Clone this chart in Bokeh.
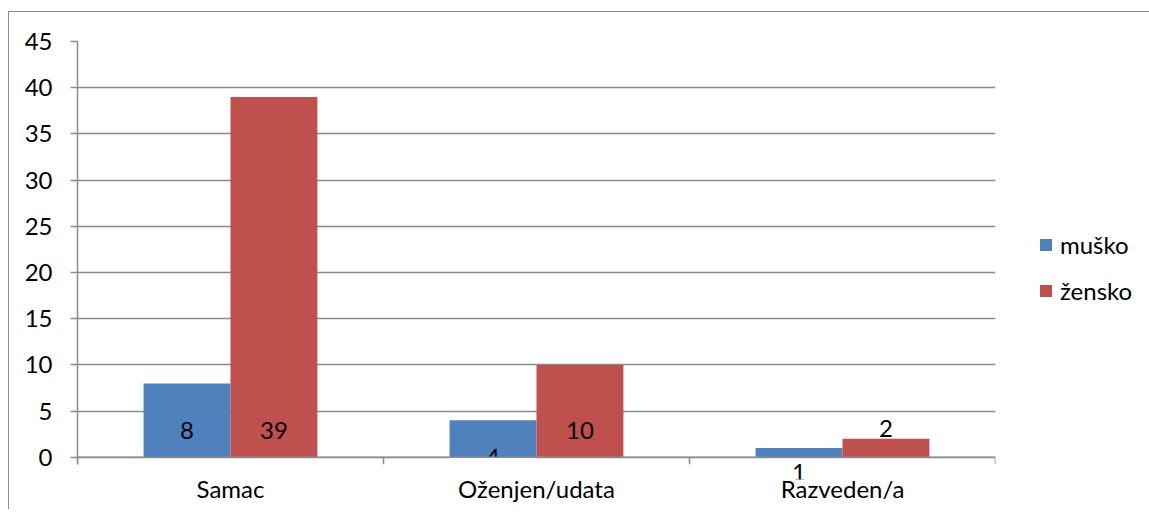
from bokeh.plotting import figure
from bokeh.models import (Range1d, FixedTicker, ColumnDataSource, Span,
                          Legend, LegendItem, CustomJSTickFormatter)
from bokeh.core.properties import value
from bokeh.embed import file_html
from bokeh.resources import INLINE

# ---- data ----
categories = ["Samac", "Oženjen/udata", "Razveden/a"]
series = ["muško", "žensko"]
musko = [8, 4, 1]
zensko = [39, 10, 2]
y_ticks = [0, 5, 10, 15, 20, 25, 30, 35, 40, 45]

# ---- style ----
FONT = "Lato"
FS = "24px"
GRID = "#8c8c8c"
colors = ["#4F81BD", "#C0504D"]
bar_w = 0.284
offs = [-bar_w / 2, bar_w / 2]
n = len(categories)
centres = [i + 0.5 for i in range(n)]
y_bottom = -2.4          # frame extends a little below zero so labels under the axis show
tick_len = 0.76          # 7px outward tick marks, in data units

p = figure(x_range=Range1d(0, n), y_range=Range1d(y_bottom, 45),
           frame_width=918, frame_height=438, output_backend="svg", toolbar_location=None,
           min_border_left=68, min_border_top=29,
           min_border_bottom=30, min_border_right=153)
p.styles = {"border-left": "1px solid #8c8c8c", "border-top": "1px solid #8c8c8c",
            "margin-top": "11px", "margin-left": "8px"}
p.outline_line_color = None
p.background_fill_color = "white"
p.border_fill_color = "white"

cols = {"musko": musko, "zensko": zensko}
renderers = []
for (col, vals), off, c in zip(cols.items(), offs, colors):
    src = ColumnDataSource(dict(x=[x + off for x in centres], top=vals))
    r = p.vbar(x="x", top="top", bottom=0, width=bar_w, source=src,
               fill_color=c, line_color=None)
    renderers.append(r)

# data labels (Excel "inside base" placement, as drawn in the reference)
label_y = {"musko": [2.9, -0.05, -1.62], "zensko": [2.9, 2.9, 3.15]}
for (col, vals), off in zip(cols.items(), offs):
    ls = ColumnDataSource(dict(x=[x + off for x in centres], y=label_y[col],
                               t=[str(v) for v in vals]))
    p.text(x="x", y="y", text="t", source=ls,
           text_align="center", text_baseline="middle", text_font=value(FONT),
           text_font_size=FS, text_color="black")

# the "4" label is cut by the plot area in the reference: mask the part below the axis
p.quad(left=[centres[1] + offs[0] - bar_w / 2], right=[centres[1] + offs[0] + bar_w / 2],
       bottom=[y_bottom], top=[-0.05], fill_color="white", line_color=None)

# category boundary tick marks below the axis
bounds = list(range(n + 1))
p.segment(x0=bounds, y0=[0] * len(bounds), x1=bounds, y1=[-tick_len] * len(bounds),
          line_color=GRID, line_width=1.5)
p.add_layout(Span(location=0, dimension="width", line_color=GRID, line_width=1.5))

# y axis & grid
p.yaxis.ticker = FixedTicker(ticks=y_ticks)
p.yaxis.bounds = (-tick_len, 45)
p.yaxis.major_tick_out = 7
p.yaxis.major_tick_in = 0
p.yaxis.minor_tick_line_color = None
p.yaxis.axis_line_color = GRID
p.yaxis.axis_line_width = 1.5
p.yaxis.major_tick_line_color = GRID
p.yaxis.major_tick_line_width = 1.5
p.yaxis.major_label_standoff = 18
p.yaxis.major_label_text_font = FONT
p.yaxis.major_label_text_font_size = FS
p.yaxis.major_label_text_color = "black"
p.ygrid.grid_line_color = GRID
p.ygrid.grid_line_width = 1.5
p.xgrid.grid_line_color = None

# x axis: category labels only (line and ticks drawn at y=0 above)
xaxis = p.xaxis[0]
xaxis.ticker = FixedTicker(ticks=centres)
xaxis.formatter = CustomJSTickFormatter(args=dict(cats=categories),
                                        code="return cats[Math.floor(tick)];")
xaxis.major_tick_line_color = None
xaxis.minor_tick_line_color = None
xaxis.axis_line_color = None
xaxis.major_tick_out = 0
xaxis.major_tick_in = 0
xaxis.major_label_standoff = -6
xaxis.major_label_text_font = FONT
xaxis.major_label_text_font_size = FS
xaxis.major_label_text_color = "black"

legend = Legend(items=[LegendItem(label=s, renderers=[r]) for s, r in zip(series, renderers)],
                location=(43, 174), border_line_color=None, background_fill_alpha=0,
                padding=0, margin=0, spacing=16, glyph_width=15, glyph_height=15,
                label_standoff=7, label_height=30, label_text_font=FONT,
                label_text_font_size=FS, label_text_color="black")
p.add_layout(legend, "right")

open("out.html", "w").write(file_html(p, INLINE))
